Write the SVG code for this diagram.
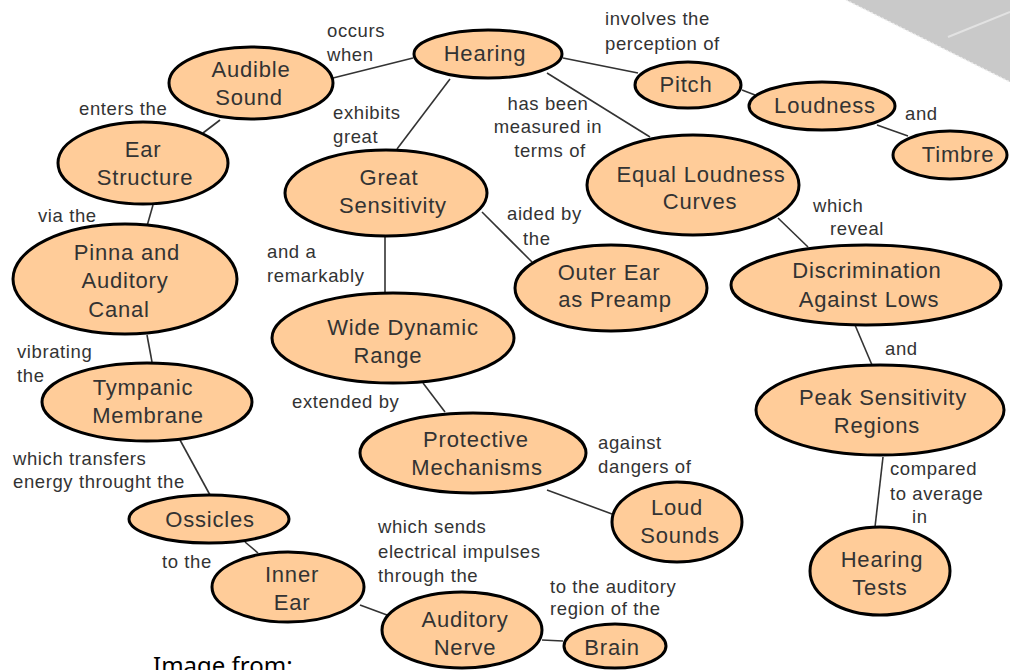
<svg xmlns="http://www.w3.org/2000/svg" width="1010" height="670" viewBox="0 0 1010 670">
<style>
.n{fill:#FFCC99;stroke:#000;stroke-width:3}
.t{font-family:"Liberation Sans",Arial,sans-serif;font-size:22px;letter-spacing:0.8px;fill:#333;text-anchor:middle}
.l{font-family:"Liberation Sans",Arial,sans-serif;font-size:18.5px;letter-spacing:0.6px;fill:#333}
.c line{stroke:#333;stroke-width:1.6}
</style>
<rect width="1010" height="670" fill="#fff"/>
<g id="corner">
<polygon points="846,0 1010,0 1010,82" fill="#c9c9c9"/>
<line x1="846" y1="0" x2="1010" y2="82" stroke="#eee" stroke-width="1.5" stroke-dasharray="2,2"/>
<line x1="948" y1="37" x2="1010" y2="12" stroke="#e2e2e2" stroke-width="2"/>
</g>
<g class="c" id="connectors">
<line x1="333" y1="78" x2="413" y2="58"/>
<line x1="563" y1="58" x2="638" y2="73"/>
<line x1="450" y1="79" x2="397" y2="149"/>
<line x1="547" y1="73" x2="650" y2="137"/>
<line x1="742" y1="90" x2="755" y2="95"/>
<line x1="877" y1="125" x2="908" y2="136"/>
<line x1="220" y1="120" x2="203" y2="133"/>
<line x1="153" y1="205" x2="147" y2="226"/>
<line x1="147" y1="335" x2="152" y2="362"/>
<line x1="180" y1="440" x2="210" y2="495"/>
<line x1="245" y1="542" x2="258" y2="553"/>
<line x1="360" y1="605" x2="387" y2="615"/>
<line x1="542" y1="640" x2="563" y2="641"/>
<line x1="385" y1="235" x2="385" y2="293"/>
<line x1="482" y1="212" x2="532" y2="262"/>
<line x1="423" y1="383" x2="445" y2="412"/>
<line x1="547" y1="490" x2="612" y2="514"/>
<line x1="778" y1="218" x2="808" y2="247"/>
<line x1="855" y1="325" x2="872" y2="365"/>
<line x1="883" y1="457" x2="875" y2="527"/>
</g>
<g id="labels">
<text class="l" x="327" y="37">occurs</text>
<text class="l" x="327" y="61">when</text>
<text class="l" x="333" y="119">exhibits</text>
<text class="l" x="333" y="143">great</text>
<text class="l" x="548" y="110" text-anchor="middle">has been</text>
<text class="l" x="548" y="133" text-anchor="middle">measured in</text>
<text class="l" x="550" y="157" text-anchor="middle">terms of</text>
<text class="l" x="605" y="25">involves the</text>
<text class="l" x="605" y="50">perception of</text>
<text class="l" x="905" y="120">and</text>
<text class="l" x="813" y="212">which</text>
<text class="l" x="830" y="235">reveal</text>
<text class="l" x="885" y="355">and</text>
<text class="l" x="890" y="475">compared</text>
<text class="l" x="890" y="500">to average</text>
<text class="l" x="912" y="523">in</text>
<text class="l" x="507" y="220">aided by</text>
<text class="l" x="523" y="245">the</text>
<text class="l" x="267" y="258">and a</text>
<text class="l" x="267" y="282">remarkably</text>
<text class="l" x="292" y="408">extended by</text>
<text class="l" x="598" y="449">against</text>
<text class="l" x="598" y="473">dangers of</text>
<text class="l" x="79" y="115">enters the</text>
<text class="l" x="38" y="222">via the</text>
<text class="l" x="17" y="358">vibrating</text>
<text class="l" x="17" y="382">the</text>
<text class="l" x="13" y="465">which transfers</text>
<text class="l" x="13" y="488">energy throught the</text>
<text class="l" x="162" y="568">to the</text>
<text class="l" x="378" y="533">which sends</text>
<text class="l" x="378" y="558">electrical impulses</text>
<text class="l" x="378" y="582">through the</text>
<text class="l" x="550" y="593">to the auditory</text>
<text class="l" x="550" y="615">region of the</text>
</g>
<g id="hearing"><ellipse class="n" cx="488" cy="54" rx="74" ry="24"/><text class="t" x="485" y="61">Hearing</text></g>
<g id="audible-sound"><ellipse class="n" cx="251" cy="83" rx="82" ry="36"/><text class="t" x="251" y="77">Audible</text><text class="t" x="249" y="105">Sound</text></g>
<g id="ear-structure"><ellipse class="n" cx="143" cy="163" rx="85" ry="41"/><text class="t" x="143" y="157">Ear</text><text class="t" x="145" y="185">Structure</text></g>
<g id="pinna"><ellipse class="n" cx="125" cy="279" rx="112" ry="55"/><text class="t" x="127" y="260">Pinna and</text><text class="t" x="125" y="288">Auditory</text><text class="t" x="119" y="317">Canal</text></g>
<g id="tympanic"><ellipse class="n" cx="147" cy="402" rx="105" ry="39"/><text class="t" x="143" y="395">Tympanic</text><text class="t" x="148" y="423">Membrane</text></g>
<g id="ossicles"><ellipse class="n" cx="209" cy="519" rx="80" ry="24"/><text class="t" x="210" y="527">Ossicles</text></g>
<g id="inner-ear"><ellipse class="n" cx="288" cy="587" rx="76" ry="35"/><text class="t" x="292" y="582">Inner</text><text class="t" x="292" y="610">Ear</text></g>
<g id="auditory-nerve"><ellipse class="n" cx="462" cy="630" rx="80" ry="38"/><text class="t" x="465" y="627">Auditory</text><text class="t" x="465" y="655">Nerve</text></g>
<g id="brain"><ellipse class="n" cx="615" cy="646" rx="51" ry="22"/><text class="t" x="612" y="655">Brain</text></g>
<g id="great-sensitivity"><ellipse class="n" cx="386" cy="193" rx="101" ry="43"/><text class="t" x="389" y="185">Great</text><text class="t" x="393" y="213">Sensitivity</text></g>
<g id="outer-ear"><ellipse class="n" cx="611" cy="288" rx="96" ry="43"/><text class="t" x="609" y="280">Outer Ear</text><text class="t" x="615" y="307">as Preamp</text></g>
<g id="wide-dynamic"><ellipse class="n" cx="393" cy="338" rx="121" ry="45"/><text class="t" x="403" y="335">Wide Dynamic</text><text class="t" x="388" y="363">Range</text></g>
<g id="protective"><ellipse class="n" cx="473" cy="453" rx="113" ry="40"/><text class="t" x="476" y="447">Protective</text><text class="t" x="477" y="475">Mechanisms</text></g>
<g id="loud-sounds"><ellipse class="n" cx="677" cy="522" rx="65" ry="40"/><text class="t" x="677" y="515">Loud</text><text class="t" x="680" y="543">Sounds</text></g>
<g id="equal-loudness"><ellipse class="n" cx="693" cy="185" rx="106" ry="50"/><text class="t" x="701" y="182">Equal Loudness</text><text class="t" x="700" y="209">Curves</text></g>
<g id="pitch"><ellipse class="n" cx="688" cy="85" rx="53" ry="23"/><text class="t" x="686" y="92">Pitch</text></g>
<g id="loudness"><ellipse class="n" cx="822" cy="106" rx="73" ry="24"/><text class="t" x="825" y="113">Loudness</text></g>
<g id="timbre"><ellipse class="n" cx="950" cy="155" rx="57" ry="24"/><text class="t" x="958" y="162">Timbre</text></g>
<g id="discrimination"><ellipse class="n" cx="866" cy="285" rx="135" ry="40"/><text class="t" x="867" y="278">Discrimination</text><text class="t" x="869" y="307">Against Lows</text></g>
<g id="peak"><ellipse class="n" cx="880" cy="410" rx="124" ry="45"/><text class="t" x="883" y="405">Peak Sensitivity</text><text class="t" x="877" y="433">Regions</text></g>
<g id="hearing-tests"><ellipse class="n" cx="880" cy="571" rx="70" ry="44"/><text class="t" x="882" y="567">Hearing</text><text class="t" x="880" y="595">Tests</text></g>
<text x="153" y="674" font-family="'Noto Sans','DejaVu Sans',sans-serif" font-size="24" fill="#000">Image from:</text>
</svg>
